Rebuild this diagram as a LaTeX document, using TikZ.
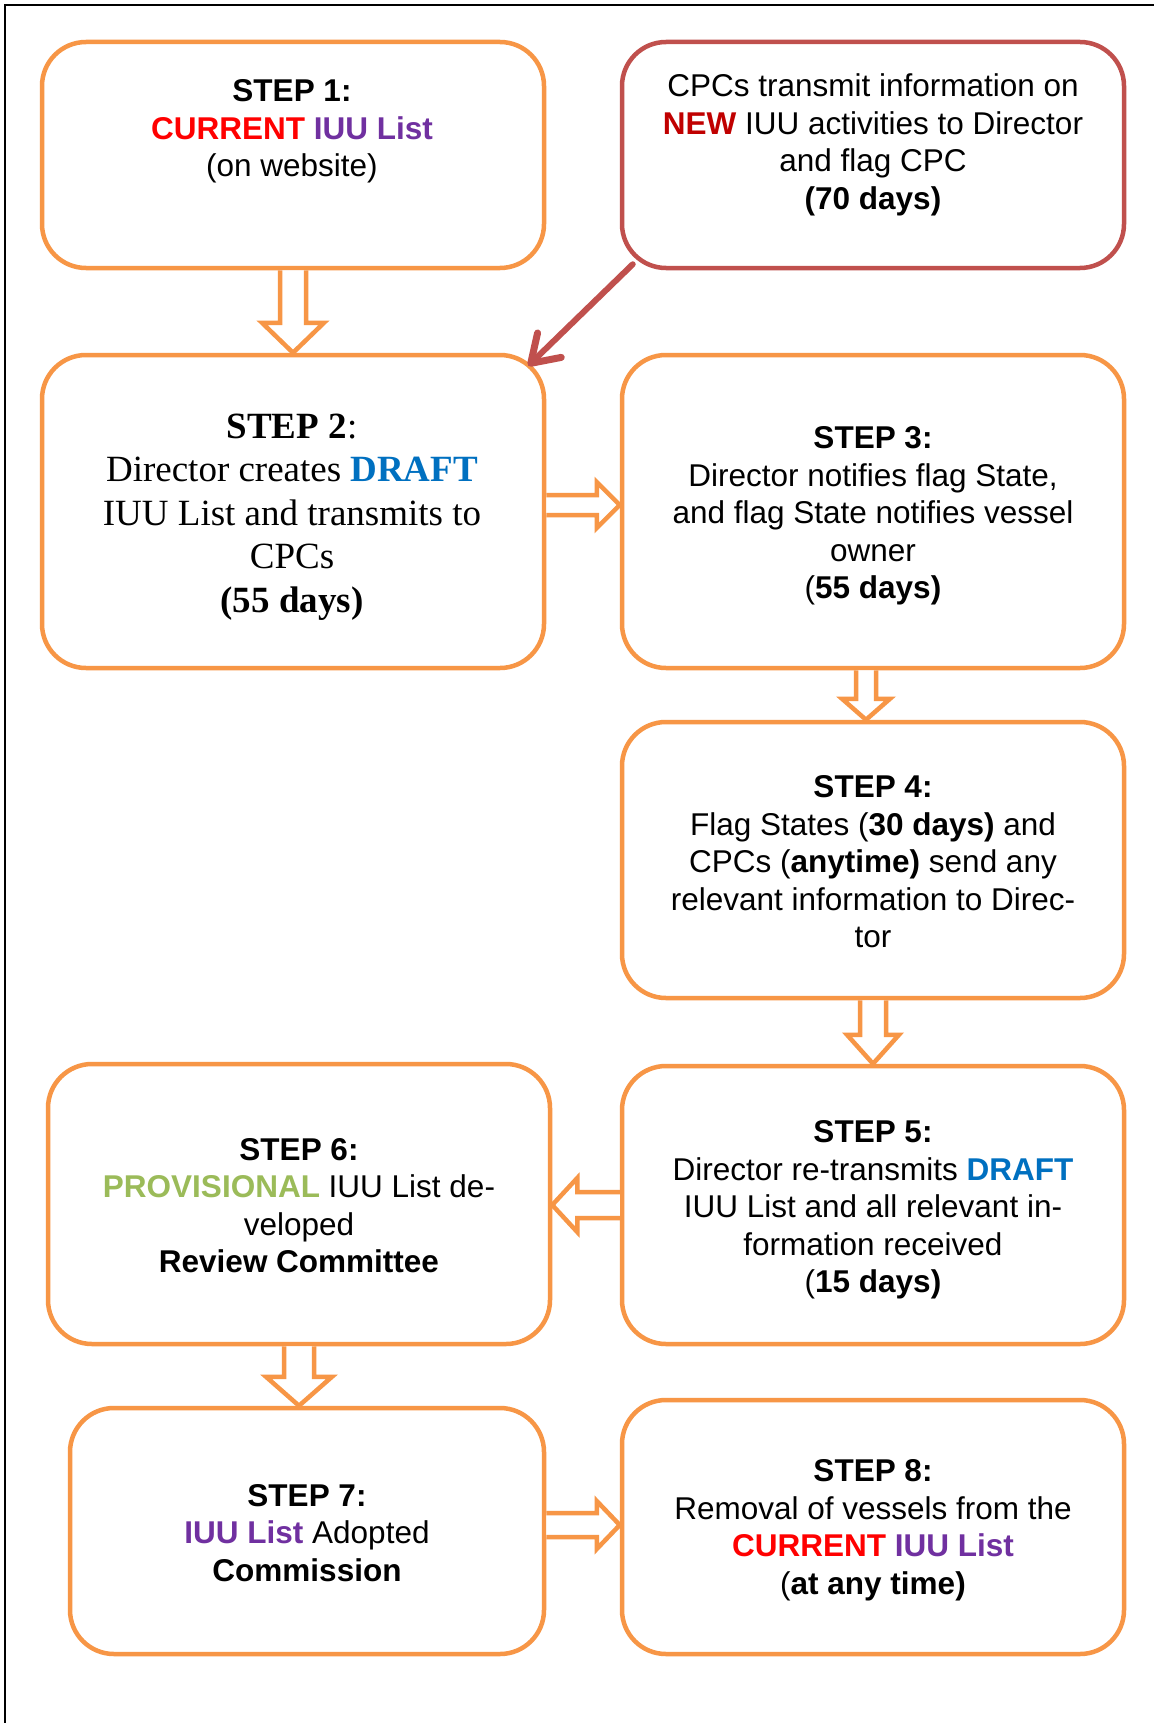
\documentclass[tikz,border=0pt]{standalone}
\usepackage{fontspec}
\setmainfont{Liberation Sans}
\newfontfamily\tnr{Liberation Serif}
\usetikzlibrary{arrows.meta,calc}
\definecolor{ora}{HTML}{F79646}
\definecolor{redb}{HTML}{C0504D}
\definecolor{cred}{HTML}{FF0000}
\definecolor{cpur}{HTML}{7030A0}
\definecolor{cblue}{HTML}{0070C0}
\definecolor{cdred}{HTML}{C00000}
\definecolor{cgreen}{HTML}{9BBB59}
% down block arrow: from, to, shaft half, head half, head length
\newcommand{\dbarrow}[5]{\draw[blk] let \p1=(#1), \p2=(#2) in (\x1-#3pt,\y1) -- (\x1-#3pt,\y2+#5pt) -- (\x1-#4pt,\y2+#5pt) -- (\x1,\y2) -- (\x1+#4pt,\y2+#5pt) -- (\x1+#3pt,\y2+#5pt) -- (\x1+#3pt,\y1);}
% right block arrow
\newcommand{\rbarrow}[5]{\draw[blk] let \p1=(#1), \p2=(#2) in (\x1,\y1+#3pt) -- (\x2-#5pt,\y1+#3pt) -- (\x2-#5pt,\y1+#4pt) -- (\x2,\y1) -- (\x2-#5pt,\y1-#4pt) -- (\x2-#5pt,\y1-#3pt) -- (\x1,\y1-#3pt);}
% left block arrow
\newcommand{\lbarrow}[5]{\draw[blk] let \p1=(#1), \p2=(#2) in (\x1,\y1+#3pt) -- (\x2+#5pt,\y1+#3pt) -- (\x2+#5pt,\y1+#4pt) -- (\x2,\y1) -- (\x2+#5pt,\y1-#4pt) -- (\x2+#5pt,\y1-#3pt) -- (\x1,\y1-#3pt);}
\begin{document}
\begin{tikzpicture}[x=1pt,y=-1pt,
  obox/.style={draw=ora, line width=4.5pt, rounded corners=44pt, minimum width=502pt, inner sep=0pt, fill=white},
  rbox/.style={obox, draw=redb},
  txt/.style={align=center, inner sep=0pt, font=\fontsize{31.5}{37.5}\selectfont},
  ttxt/.style={align=center, inner sep=0pt, font=\tnr\fontsize{37}{43.5}\selectfont},
  blk/.style={draw=ora, line width=4.5pt, fill=white, line join=miter},
  redarrow/.style={draw=redb, line width=6pt, line cap=round, -{Straight Barb[length=26pt,width=34pt,round,line width=7pt]}}
]
\useasboundingbox (0,0) rectangle (1154,1723);
\fill[white] (0,0) rectangle (1154,1723);
\draw[line width=2pt] (4.5,1723) -- (4.5,5) -- (1154,5);

% boxes
\node[obox, minimum height=226pt] (b1) at (293,155) {};
\node[rbox, minimum height=226pt] (rb) at (873,155) {};
\node[obox, minimum height=313pt] (b2) at (293,511.5) {};
\node[obox, minimum height=313pt] (b3) at (873,511.5) {};
\node[obox, minimum height=276pt] (b4) at (873,860) {};
\node[obox, minimum height=278pt] (b5) at (873,1205) {};
\node[obox, minimum height=280pt] (b6) at (299,1204) {};
\node[obox, minimum height=246pt, minimum width=474pt] (b7) at (307,1531) {};
\node[obox, minimum height=254pt] (b8) at (873,1527) {};

% texts
\node[txt] (t1) at (292,131.5) {\textbf{STEP 1:}\\\textbf{\color{cred}CURRENT} \textbf{\color{cpur}IUU List}\\(on website)};
\node[txt] (tr) at (873,145) {CPCs transmit information on\\\textbf{\color{cdred}NEW} IUU activities to Director\\and flag CPC\\\textbf{(70 days)}};
\node[ttxt] (t2) at (292,517) {\textbf{STEP 2}:\\Director creates \textbf{\color{cblue}DRAFT}\\IUU List and transmits to\\CPCs\\\textbf{(55 days)}};
\node[txt] (t3) at (873,516) {\textbf{STEP 3:}\\Director notifies flag State,\\and flag State notifies vessel\\owner\\(\textbf{55 days)}};
\node[txt] (t4) at (873,862) {\textbf{STEP 4:}\\Flag States (\textbf{30 days)} and\\CPCs (\textbf{anytime)} send any\\relevant information to Direc-\\tor};
\node[txt] (t5) at (873,1210) {\textbf{STEP 5:}\\Director re-transmits \textbf{\color{cblue}DRAFT}\\IUU List and all relevant in-\\formation received\\(\textbf{15 days)}};
\node[txt] (t6) at (299,1205.5) {\textbf{STEP 6:}\\\textbf{\color{cgreen}PROVISIONAL} IUU List de-\\veloped\\\textbf{Review Committee}};
\node[txt] (t7) at (307,1533) {\textbf{STEP 7:}\\\textbf{\color{cpur}IUU List} Adopted\\\textbf{Commission}};
\node[txt] (t8) at (873,1530.5) {\textbf{STEP 8:}\\Removal of vessels from the\\\textbf{\color{cred}CURRENT} \textbf{\color{cpur}IUU List}\\(\textbf{at any time)}};

% block arrows
\dbarrow{b1.south}{b2.north}{13}{31}{30}
\rbarrow{[yshift=6.5pt]b2.east}{b3.west}{10}{23}{23}
\dbarrow{[xshift=-7pt]b3.south}{b4.north}{10}{24}{21}
\dbarrow{b4.south}{b5.north}{13}{26}{29}
\lbarrow{b5.west}{b6.east}{13}{27}{25}
\dbarrow{b6.south}{b7.north}{15}{33}{29}
\rbarrow{[yshift=6pt]b7.east}{b8.west}{12}{24}{23}

% red arrow
\draw[redarrow] ($(rb.south west)+(13,-6)$) -- ($(b2.north east)+(-18,13)$);
\end{tikzpicture}
\end{document}
